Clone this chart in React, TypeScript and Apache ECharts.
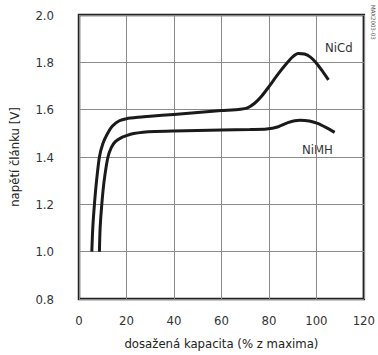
import React, { useEffect, useRef } from "react";
import * as echarts from "echarts";

const xTicks = [0, 20, 40, 60, 80, 100, 120];
const yTicks = [0.8, 1.0, 1.2, 1.4, 1.6, 1.8, 2.0];

const nicdCapacity = [5.4, 5.8, 6.5, 7.4, 8.6, 10, 11.8, 14, 17, 20, 25, 30, 40, 50, 60, 68, 71, 74, 77, 80, 84, 87.7, 90, 92.3, 95, 97.5, 99.7, 102, 105.1];
const nicdVoltage = [1.0, 1.1, 1.2, 1.3, 1.4, 1.455, 1.495, 1.53, 1.553, 1.562, 1.568, 1.572, 1.58, 1.588, 1.596, 1.602, 1.608, 1.627, 1.658, 1.697, 1.752, 1.798, 1.823, 1.837, 1.835, 1.822, 1.8, 1.77, 1.726];

const nimhCapacity = [8.6, 8.9, 9.6, 10.6, 12.2, 13.6, 15.3, 17.5, 20, 23, 27, 32, 40, 60, 72, 79, 84, 88, 93, 97, 100.5, 104, 107.7];
const nimhVoltage = [1.0, 1.1, 1.2, 1.3, 1.4, 1.44, 1.465, 1.48, 1.49, 1.499, 1.505, 1.508, 1.51, 1.514, 1.516, 1.518, 1.528, 1.545, 1.555, 1.552, 1.542, 1.525, 1.504];

const seriesNames = ["NiCd", "NiMH"];
const xTitle = "dosažená kapacita (% z maxima)";
const yTitle = "napětí článku [V]";
const figureId = "MAX2003-03";

const FONT = "'Liberation Sans Narrow', 'DejaVu Sans Condensed', 'Arial Narrow', sans-serif";

export default function App() {
  const ref = useRef<HTMLDivElement>(null);
  useEffect(() => {
    if (!ref.current) return;
    const chart = echarts.init(ref.current, undefined, { renderer: "svg" });
    const nicd = nicdCapacity.map((x, i) => [x, nicdVoltage[i]]);
    const nimh = nimhCapacity.map((x, i) => [x, nimhVoltage[i]]);
    chart.setOption({
      animation: false,
      backgroundColor: "#fff",
      grid: {
        left: 77,
        right: 11,
        top: 15,
        bottom: 52,
        show: true,
        borderColor: "#222",
        borderWidth: 2.5,
        backgroundColor: "transparent",
      },
      xAxis: {
        type: "value",
        min: xTicks[0],
        max: xTicks[xTicks.length - 1],
        interval: 20,
        axisLine: { show: false },
        axisTick: { show: false },
        splitLine: { show: true, lineStyle: { color: "#8a8a8a", width: 1 } },
        axisLabel: { color: "#333", fontSize: 13, fontFamily: FONT, margin: 15 },
        name: xTitle,
        nameLocation: "middle",
        nameGap: 38,
        nameTextStyle: { color: "#222", fontSize: 13, fontFamily: FONT },
      },
      yAxis: {
        type: "value",
        min: yTicks[0],
        max: yTicks[yTicks.length - 1],
        interval: 0.2,
        axisLine: { show: false },
        axisTick: { show: false },
        splitLine: { show: true, lineStyle: { color: "#8a8a8a", width: 1 } },
        axisLabel: {
          color: "#333",
          fontSize: 13,
          fontFamily: FONT,
          margin: 25,
          formatter: (v: number) => v.toFixed(1),
        },
        name: yTitle,
        nameLocation: "middle",
        nameGap: 58,
        nameTextStyle: { color: "#222", fontSize: 13, fontFamily: FONT },
      },
      series: [
        {
          name: seriesNames[0],
          type: "line",
          data: nicd,
          smooth: 0.25,
          showSymbol: false,
          lineStyle: { color: "#1a1a1a", width: 3 },
          z: 5,
        },
        {
          name: seriesNames[1],
          type: "line",
          data: nimh,
          smooth: 0.25,
          showSymbol: false,
          lineStyle: { color: "#1a1a1a", width: 3 },
          z: 5,
        },
      ],
      graphic: [
        {
          type: "text",
          left: 325,
          top: 41,
          style: { text: seriesNames[0], fill: "#333", fontSize: 13, fontFamily: FONT },
        },
        {
          type: "text",
          left: 302,
          top: 143,
          style: { text: seriesNames[1], fill: "#333", fontSize: 13, fontFamily: FONT },
        },
        {
          type: "text",
          x: 373,
          y: 5,
          rotation: -Math.PI / 2,
          style: { text: figureId, fill: "#555", fontSize: 6, fontFamily: FONT, textAlign: "left", textVerticalAlign: "middle" },
        },
      ],
    });
    return () => chart.dispose();
  }, []);
  return (
    <div
      ref={ref}
      style={{ position: "fixed", left: 0, top: 0, width: 378, height: 355 }}
    />
  );
}
